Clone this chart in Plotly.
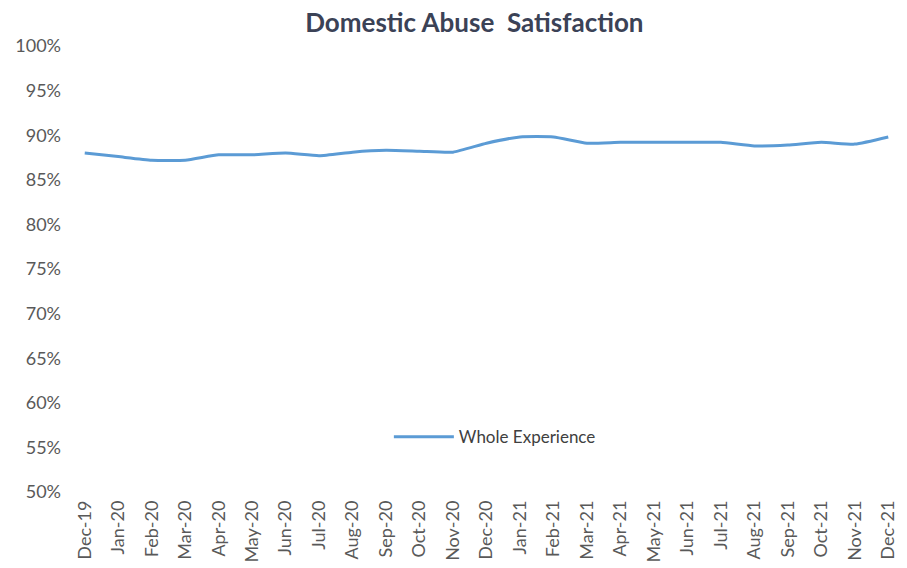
import plotly.graph_objects as go

months = ["Dec-19", "Jan-20", "Feb-20", "Mar-20", "Apr-20", "May-20", "Jun-20", "Jul-20",
          "Aug-20", "Sep-20", "Oct-20", "Nov-20", "Dec-20", "Jan-21", "Feb-21", "Mar-21",
          "Apr-21", "May-21", "Jun-21", "Jul-21", "Aug-21", "Sep-21", "Oct-21", "Nov-21", "Dec-21"]
whole_experience = [0.880, 0.876, 0.872, 0.872, 0.878, 0.878, 0.880, 0.877,
                    0.881, 0.883, 0.882, 0.881, 0.891, 0.898, 0.898, 0.891,
                    0.892, 0.892, 0.892, 0.892, 0.888, 0.889, 0.892, 0.890, 0.898]
y_ticks = [0.50, 0.55, 0.60, 0.65, 0.70, 0.75, 0.80, 0.85, 0.90, 0.95, 1.00]

fig = go.Figure()
fig.add_trace(go.Scatter(
    x=months, y=whole_experience, mode="lines", name="Whole Experience",
    line=dict(color="#5b9bd5", width=3, shape="spline", smoothing=0.5),
))

fig.update_layout(
    width=907, height=568,
    margin=dict(l=68, r=2, t=46, b=76),
    paper_bgcolor="white", plot_bgcolor="white",
    font=dict(family="Lato, sans-serif", color="#595959", size=15),
    title=dict(text="<b>Domestic Abuse  Satisfaction</b>", x=0.523, xanchor="center",
               y=0.975, yanchor="top",
               font=dict(size=26, color="#3b4256", family="Lato, sans-serif")),
    showlegend=True,
    legend=dict(orientation="h", x=0.51, xanchor="center", y=0.123, yanchor="middle",
                bgcolor="rgba(0,0,0,0)", font=dict(size=17, color="#404040"),
                itemwidth=60),
    xaxis=dict(type="category", range=[-0.5, len(months) - 0.5], tickangle=-90,
               showgrid=False, showline=False, zeroline=False, ticks="",
               automargin=False, ticklabelstandoff=4, tickfont=dict(size=18)),
    yaxis=dict(range=[0.50, 1.00], tickvals=y_ticks, tickformat=".0%",
               showgrid=False, showline=False, zeroline=False, ticks="",
               automargin=False, ticklabelstandoff=6, tickfont=dict(size=18)),
)

fig.write_html("out.html")
